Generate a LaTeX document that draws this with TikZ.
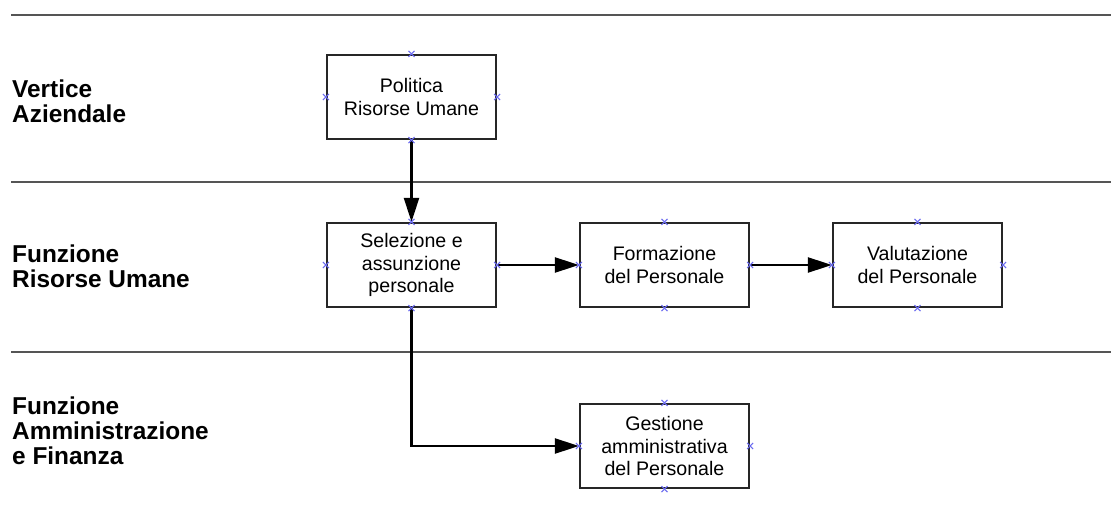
\documentclass[tikz,border=0pt]{standalone}
\usepackage{fontspec}
\setmainfont{Liberation Sans}
\usetikzlibrary{arrows.meta,calc}
\definecolor{sepgray}{HTML}{555555}
\definecolor{cpblue}{HTML}{6A6AF0}
\tikzset{
  procbox/.style={draw=black!85, line width=2.2pt, minimum width=169pt, minimum height=84pt,
    inner sep=0pt, align=center, font=\fontsize{19.6pt}{22.5pt}\selectfont, fill=white},
  lanelabel/.style={anchor=north west, inner sep=0pt, align=left,
    font=\bfseries\fontsize{24.4pt}{25pt}\selectfont},
  sepline/.style={draw=sepgray, line width=1.4pt},
  flow/.style={line width=2.2pt, -{Triangle[length=24pt,width=15pt]}},
  cpmark/.style={draw=cpblue, line width=1pt}
}
\newcommand{\cpx}[1]{%
  \draw[cpmark] ($(#1)+(-3,-3)$) -- ($(#1)+(3,3)$) ($(#1)+(-3,3)$) -- ($(#1)+(3,-3)$);}
\begin{document}
\begin{tikzpicture}[x=1pt,y=-1pt]
\useasboundingbox[fill=white] (0,0) rectangle (1111,508);
% swimlane separators
\coordinate (l1a) at (11,15);  \coordinate (l1b) at (1111,15);
\coordinate (l2a) at (11,182); \coordinate (l2b) at (1111,182);
\coordinate (l3a) at (11,352); \coordinate (l3b) at (1111,352);
\draw[sepline] (l1a) -- (l1b);
\draw[sepline] (l2a) -- (l2b);
\draw[sepline] (l3a) -- (l3b);
% lane labels
\node[lanelabel] (lab1) at (12,79.5) {Vertice\\Aziendale};
\node[lanelabel] (lab2) at (12,245) {Funzione\\Risorse Umane};
\node[lanelabel] (lab3) at (12,397) {Funzione\\Amministrazione\\e Finanza};
% boxes
\node[procbox] (pol) at (411.5,97) {Politica\\Risorse Umane};
\node[procbox] (sel) at (411.5,265) {Selezione e\\assunzione\\personale};
\node[procbox] (for) at (664.5,265) {Formazione\\del Personale};
\node[procbox] (val) at (917.5,265) {Valutazione\\del Personale};
\node[procbox] (ges) at (664.5,446) {Gestione\\amministrativa\\del Personale};
% connectors
\draw[flow] (pol.south) -- (sel.north);
\draw[flow] (sel.east) -- (for.west);
\draw[flow] (for.east) -- (val.west);
\draw[flow] (sel.south) |- (ges.west);
% connection points
\foreach \n in {pol,sel,for,val,ges}{
  \foreach \a in {north,south,east,west}{
    \cpx{\n.\a}
  }
}
\end{tikzpicture}
\end{document}
